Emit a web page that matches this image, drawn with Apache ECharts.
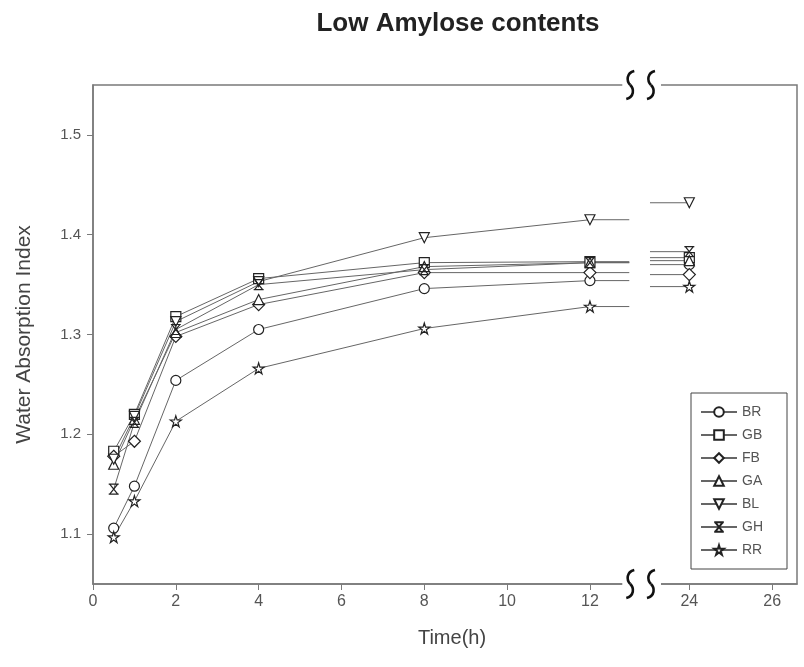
<!DOCTYPE html>
<html>
<head>
<meta charset="utf-8">
<script src="https://cdn.jsdelivr.net/npm/echarts@6/dist/echarts.min.js"></script>
<style>html,body{margin:0;padding:0;background:#fff;}#c{width:804px;height:667px;}</style>
</head>
<body>
<div id="c"></div>
<script>
// ---- data ----
const times = [0.5, 1, 2, 4, 8, 12, 24];
const seriesNames = ['BR', 'GB', 'FB', 'GA', 'BL', 'GH', 'RR'];
const BR = [1.106, 1.148, 1.254, 1.305, 1.346, 1.354, 1.370];
const GB = [1.183, 1.220, 1.318, 1.356, 1.372, 1.373, 1.377];
const FB = [1.178, 1.193, 1.298, 1.330, 1.362, 1.362, 1.360];
const GA = [1.170, 1.215, 1.302, 1.335, 1.368, 1.372, 1.374];
const BL = [1.175, 1.218, 1.313, 1.353, 1.397, 1.415, 1.432];
const GH = [1.145, 1.212, 1.305, 1.350, 1.365, 1.372, 1.383];
const RR = [1.097, 1.133, 1.213, 1.266, 1.306, 1.328, 1.348];
const xTickLabels = [0, 2, 4, 6, 8, 10, 12, 24, 26];
const yTickLabels = [1.1, 1.2, 1.3, 1.4, 1.5];

// ---- axis break (13h .. 23h) ----
const breakStart = 12.95, breakEnd = 23.05, breakShift = 9.6;
function disp(t) { return t <= 13 ? t : t - breakShift; }
function undisp(v) { return v <= 13 ? v : v + breakShift; }

const values = { BR, GB, FB, GA, BL, GH, RR };
const starPath = 'path://M50,0 L61,35 L98,35 L68,57 L79,92 L50,70 L21,92 L32,57 L2,35 L39,35 Z';
const ghPath = 'path://M0,0 L100,0 M0,100 L100,100 M10,0 L90,100 M90,0 L10,100';
const symbols = {
  BR: { symbol: 'circle' },
  GB: { symbol: 'rect' },
  FB: { symbol: 'diamond', size: 12 },
  GA: { symbol: 'triangle' },
  BL: { symbol: 'triangle', rotate: 180 },
  GH: { symbol: ghPath },
  RR: { symbol: starPath, size: 11 }
};

function buildData(vals) {
  const out = [];
  for (let i = 0; i < times.length; i++) {
    const t = times[i];
    if (i > 0 && times[i - 1] < breakStart && t > breakEnd) {
      out.push({ value: [disp(breakStart), vals[i - 1]], symbol: 'none' });
      out.push([ (disp(breakStart) + disp(breakEnd)) / 2, '-' ]);
      out.push({ value: [disp(breakEnd), vals[i]], symbol: 'none' });
    }
    out.push([disp(t), vals[i]]);
  }
  return out;
}

const font = 'Liberation Sans, Arial, sans-serif';
const series = seriesNames.map(n => ({
  name: n,
  type: 'line',
  data: buildData(values[n]),
  symbol: symbols[n].symbol,
  symbolSize: symbols[n].size || 10,
  symbolRotate: symbols[n].rotate || 0,
  showAllSymbol: true,
  connectNulls: false,
  lineStyle: { color: '#666', width: 1 },
  itemStyle: { color: '#ffffff', borderColor: '#222', borderWidth: 1.2 },
  emphasis: { disabled: true },
  animation: false
}));

const chart = echarts.init(document.getElementById('c'));
chart.setOption({
  animation: false,
  backgroundColor: '#fff',
  title: {
    text: 'Low Amylose contents',
    left: 453, textAlign: 'center', top: 6,
    textStyle: { fontFamily: font, fontSize: 26, fontWeight: 'bold', color: '#222' }
  },
  grid: { left: 93, right: 7, top: 85, bottom: 83, show: true, borderColor: '#7a7a7a', borderWidth: 1.5, backgroundColor: 'transparent' },
  legend: {
    orient: 'vertical', left: 691, top: 393,
    itemWidth: 36, itemHeight: 12, itemGap: 9,
    padding: [12, 24, 12, 9],
    borderColor: '#444', borderWidth: 1,
    textStyle: { fontFamily: font, fontSize: 14, color: '#555' },
    data: seriesNames
  },
  xAxis: {
    type: 'value', min: 0, max: 17,
    name: 'Time(h)', nameLocation: 'middle', nameGap: 44,
    nameTextStyle: { fontFamily: font, fontSize: 20, color: '#444', padding: [0, 0, 0, 14] },
    axisLine: { show: true, lineStyle: { color: '#7a7a7a', width: 1.5 } },
    axisTick: { show: true, customValues: xTickLabels.map(disp), length: 6, lineStyle: { color: '#7a7a7a' } },
    axisLabel: { customValues: xTickLabels.map(disp), formatter: v => String(Math.round(undisp(v))), fontFamily: font, fontSize: 16, color: '#555', margin: 10 },
    splitLine: { show: false }
  },
  yAxis: {
    type: 'value', min: 1.05, max: 1.55,
    name: 'Water Absorption Index', nameLocation: 'middle', nameGap: 58,
    nameTextStyle: { fontFamily: font, fontSize: 21, color: '#444', padding: [0, 0, 0, 0] },
    axisLine: { show: true, lineStyle: { color: '#7a7a7a', width: 1.5 } },
    axisTick: { show: true, customValues: yTickLabels, length: 6, lineStyle: { color: '#7a7a7a' } },
    axisLabel: { customValues: yTickLabels, formatter: v => v.toFixed(1), fontFamily: font, fontSize: 15, color: '#555', margin: 12 },
    splitLine: { show: false }
  },
  series: series
});

// ---- break marks on the top and bottom frame lines ----
function drawBreaks() {
  const y0 = chart.convertToPixel({ gridIndex: 0 }, [0, 1.55])[1];
  const y1 = chart.convertToPixel({ gridIndex: 0 }, [0, 1.05])[1];
  const xa = chart.convertToPixel({ gridIndex: 0 }, [disp(breakStart), 1.3])[0];
  const xb = chart.convertToPixel({ gridIndex: 0 }, [disp(breakEnd), 1.3])[0];
  const els = [];
  [y0, y1].forEach(y => {
    els.push({ type: 'rect', shape: { x: xa - 7, y: y - 3, width: (xb - xa) + 18, height: 6 }, style: { fill: '#fff', stroke: null }, z: 100 });
    [xa + 1, xb + 1].forEach(x => {
      els.push({ type: 'bezierCurve', shape: { x1: x + 4, y1: y - 14, cpx1: x - 4, cpy1: y - 12, cpx2: x - 4, cpy2: y - 4, x2: x, y2: y }, style: { fill: null, stroke: '#111', lineWidth: 2.6 }, z: 101 });
      els.push({ type: 'bezierCurve', shape: { x1: x, y1: y, cpx1: x + 4, cpy1: y + 4, cpx2: x + 4, cpy2: y + 12, x2: x - 4, y2: y + 14 }, style: { fill: null, stroke: '#111', lineWidth: 2.6 }, z: 101 });
    });
  });
  chart.setOption({ graphic: els });
}
drawBreaks();
</script>
</body>
</html>
